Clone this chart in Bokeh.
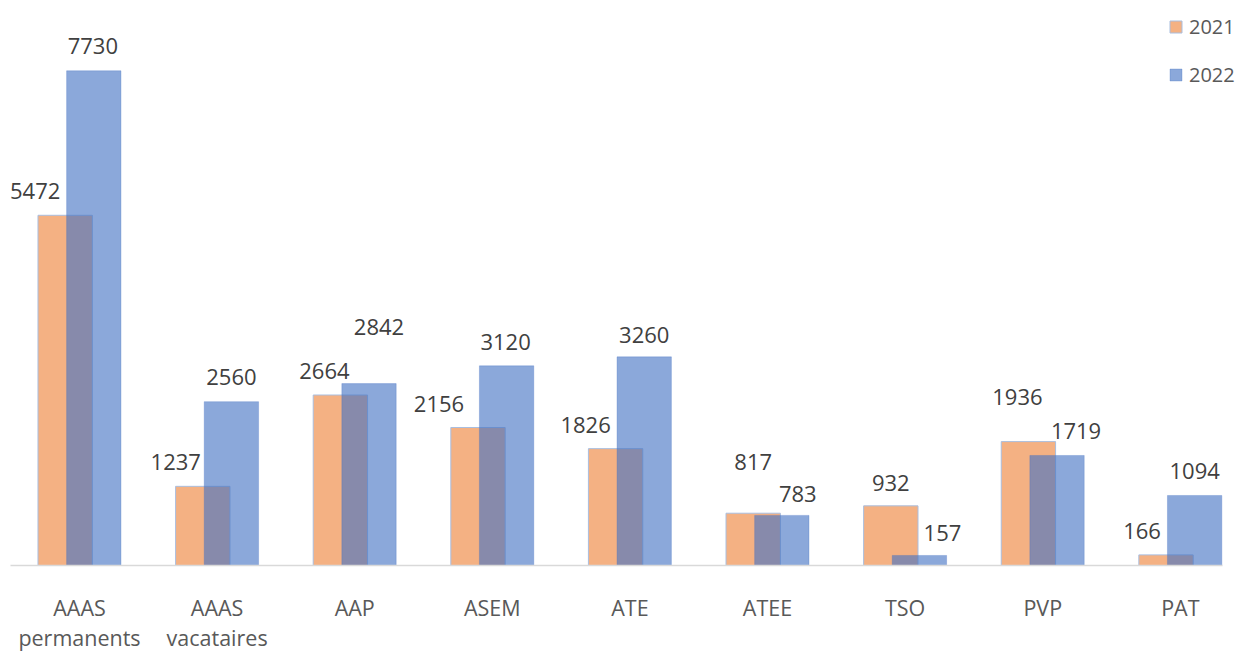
from bokeh.plotting import figure
from bokeh.models import ColumnDataSource, Range1d, FixedTicker, Legend, LegendItem
from bokeh.transform import dodge
from bokeh.core.properties import value
from bokeh.embed import file_html
from bokeh.resources import INLINE

# ---- data ----
categories = ["AAAS\npermanents", "AAAS\nvacataires", "AAP", "ASEM", "ATE",
              "ATEE", "TSO", "PVP", "PAT"]
series = ["2021", "2022"]
values_2021 = [5472, 1237, 2664, 2156, 1826, 817, 932, 1936, 166]
values_2022 = [7730, 2560, 2842, 3120, 3260, 783, 157, 1719, 1094]

# label nudges in screen pixels (as placed in the original chart)
dx_2021 = [-30, -27, -16, -39, -30, 0, 0, -11, -24]
dy_2021 = [-24, -24, -24, -24, -24, -51, -23, -45, -24]
dx_2022 = [-1, 0, 10, -1, 0, 16, 23, 19, 0]
dy_2022 = [-25, -25, -57, -24, -22, -21, -22, -24, -24]

idx = list(range(len(categories)))
src = ColumnDataSource(dict(
    x=idx, v21=values_2021, v22=values_2022,
    t21=[str(v) for v in values_2021], t22=[str(v) for v in values_2022],
    dx21=dx_2021, dy21=dy_2021, dx22=dx_2022, dy22=dy_2022,
))

OFF = 0.104
BW = 0.395

p = figure(frame_width=1239, frame_height=565,
           x_range=Range1d(-0.574, 8.430), y_range=Range1d(0, 8828),
           output_backend="svg", toolbar_location=None, y_axis_location=None,
           min_border_left=0, min_border_right=0, min_border_top=0,
           min_border_bottom=80)
p.outline_line_color = None
p.xgrid.visible = False
p.ygrid.visible = False
p.background_fill_color = "white"

r21 = p.vbar(x=dodge("x", -OFF), top="v21", bottom=0, width=BW, source=src,
             fill_color="#F4B183", line_color="#A9BEDF", line_width=1)
r22 = p.vbar(x=dodge("x", OFF), top="v22", bottom=0, width=BW, source=src,
             fill_color="#4472C4", fill_alpha=0.62,
             line_color="#4472C4", line_alpha=0.3, line_width=1)

for xs, ys, ts, dxs, dys in [(-OFF, "v21", "t21", "dx21", "dy21"),
                              (OFF, "v22", "t22", "dx22", "dy22")]:
    p.text(x=dodge("x", xs), y=ys, text=ts, x_offset=dxs, y_offset=dys,
           source=src, text_align="center", text_baseline="middle",
           text_font=value("Open Sans"), text_font_size="22px",
           text_color="#404040")

ax = p.xaxis[0]
ax.ticker = FixedTicker(ticks=idx)
ax.major_label_overrides = {i: c for i, c in enumerate(categories)}
ax.bounds = (-0.502, 8.308)
ax.major_tick_line_color = None
ax.minor_tick_line_color = None
ax.axis_line_color = "#D9D9D9"
ax.axis_line_width = 1.5
ax.major_label_text_font = "Open Sans"
ax.major_label_text_font_size = "21.5px"
ax.major_label_text_color = "#595959"
ax.major_label_text_line_height = 1.05
ax.major_label_standoff = 21

legend = Legend(items=[LegendItem(label=series[0], renderers=[r21]),
                       LegendItem(label=series[1], renderers=[r22])],
                location=(1168, 477), orientation="vertical",
                glyph_width=15, glyph_height=15,
                label_standoff=6, spacing=21, padding=0, margin=0,
                border_line_color=None, background_fill_alpha=0,
                label_text_font="Open Sans", label_text_font_size="20px",
                label_text_color="#595959")
p.add_layout(legend)

open("out.html", "w").write(file_html(p, INLINE))
